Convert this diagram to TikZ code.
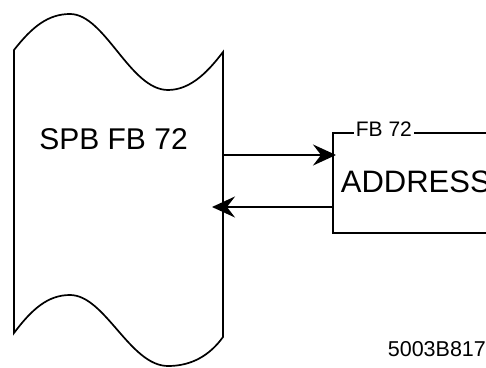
\documentclass[tikz,border=0pt]{standalone}
\usepackage{fontspec}
\setmainfont{Liberation Sans}
\usetikzlibrary{arrows.meta}
\tikzset{
  lbl/.style={inner sep=0pt,font=\fontsize{30}{30}\selectfont},
  sig/.style={line width=2pt,-{Stealth[length=23pt,width=21pt,inset=8pt]}},
}
\begin{document}
\begin{tikzpicture}[x=1pt,y=1pt,line width=1.7pt]
            \clip (0,0) rectangle (486,367);
            \coordinate (TL) at (14,317);
            \coordinate (TR) at (223,315);
            \coordinate (BL) at (14,34);
            \coordinate (BR) at (223,30);
            \coordinate (Out) at (223,212);
            \coordinate (In) at (212,160);
            \coordinate (BoxIn) at (336,212);
            \coordinate (BoxOut) at (333,160);
            % program block with torn ends
            \draw (TL) .. controls (32,340) and (48,353) .. (70,353)
                .. controls (105,353) and (130,277) .. (168,277)
                .. controls (192,277) and (210,298) .. (TR)
                -- (BR) .. controls (210,12) and (192,1) .. (168,1)
                .. controls (130,1) and (105,72) .. (70,72)
                .. controls (48,72) and (32,58) .. (BL) -- cycle;
            \node[lbl,anchor=base] (spb) at (113.5,217) {SPB FB 72};
            % function block
            \draw (520,134) -- (333,134) -- (333,234) -- (520,234);
            \node[inner sep=2pt,fill=white,anchor=base west,
                  font=\fontsize{21}{21}\selectfont] (fb) at (353,230) {FB 72};
            \node[lbl,anchor=base west,font=\fontsize{31}{31}\selectfont] (addr) at (340,175) {ADDRESS};
            \draw[sig] (Out) -- (BoxIn);
            \draw[sig] (BoxOut) -- (In);
            \node[anchor=base west,inner sep=0pt,
                  font=\fontsize{21.5}{21.5}\selectfont] (code) at (387,11) {5003B817};
\end{tikzpicture}
\end{document}
